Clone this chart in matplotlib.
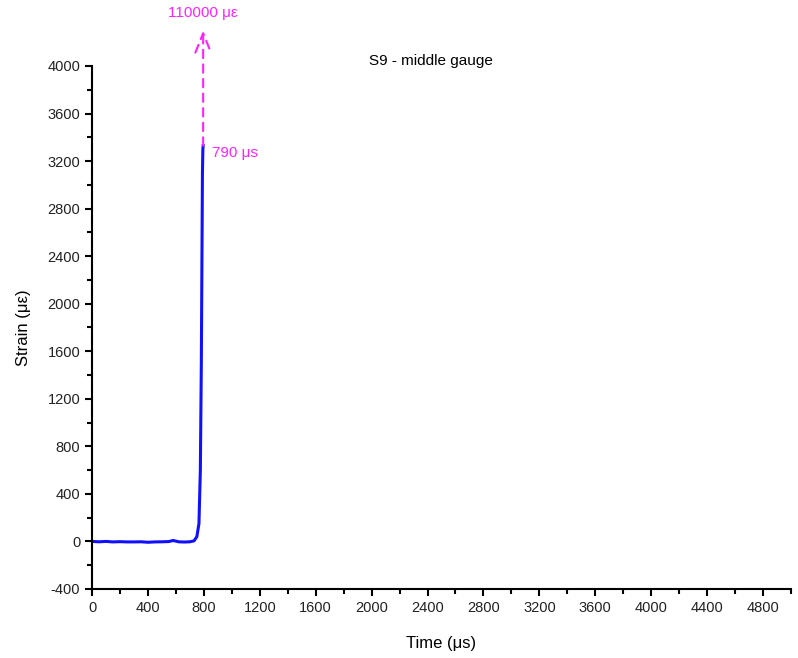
import matplotlib
matplotlib.use("Agg")
import matplotlib.pyplot as plt
from matplotlib.ticker import MultipleLocator

plt.rcParams['font.family'] = ['Liberation Sans', 'DejaVu Sans']
plt.rcParams['axes.unicode_minus'] = False

# Strain gauge S9 reading
time_us = [0, 50, 100, 150, 200, 250, 300, 350, 400, 450, 500, 550, 580,
           620, 660, 700, 730, 750, 765, 775, 782, 787, 790, 793, 795]
strain = [0, -3, 0, -4, -2, -4, -4, -3, -7, -4, -3, -1, 8,
          -3, -5, -3, 5, 40, 150, 600, 1500, 2500, 3100, 3300, 3330]

peak_time = 795
peak_strain = 3330
arrow_top = 4300
label_peak = "110000 \u03bc\u03b5"
label_time = "790 \u03bcs"

fig = plt.figure(figsize=(7.98, 6.58), dpi=100)
ax = fig.add_axes([0.1153, 0.1049, 0.8759, 0.7948])

ax.plot(time_us, strain, color="#1010ff", linewidth=2.2)

# dashed arrow towards the off-scale peak
ax.annotate("", xy=(peak_time, arrow_top), xytext=(peak_time, peak_strain),
            arrowprops=dict(arrowstyle="->,head_length=0.5,head_width=0.2",
                            color="#ff22ff", linestyle=(0, (4, 3)),
                            linewidth=1.5, mutation_scale=28,
                            shrinkA=0, shrinkB=0),
            annotation_clip=False)
ax.text(peak_time, 4450, label_peak, color="#ff22ff", fontsize=11,
        ha="center", va="center", clip_on=False)
ax.text(peak_time + 60, 3270, label_time, color="#ff22ff", fontsize=11,
        ha="left", va="center")

ax.set_xlim(0, 5000)
ax.set_ylim(-400, 4000)
ax.xaxis.set_major_locator(MultipleLocator(400))
ax.xaxis.set_minor_locator(MultipleLocator(200))
ax.yaxis.set_major_locator(MultipleLocator(400))
ax.yaxis.set_minor_locator(MultipleLocator(200))

ax.spines["top"].set_visible(False)
ax.spines["right"].set_visible(False)
ax.spines["left"].set_linewidth(1.5)
ax.spines["bottom"].set_linewidth(1.5)
ax.tick_params(which="major", direction="out", length=5, width=1.5,
               labelsize=10.5, labelcolor="#222222")
ax.tick_params(which="minor", direction="out", length=3.5, width=1.5)

ax.set_xlabel("Time (\u03bcs)", fontsize=12, labelpad=15)
ax.set_ylabel("Strain (\u03bc\u03b5)", fontsize=12, labelpad=12)

fig.text(0.54, 0.908, "S9 - middle gauge", fontsize=11, ha="center", va="center")

fig.savefig("out.png", dpi=100)
